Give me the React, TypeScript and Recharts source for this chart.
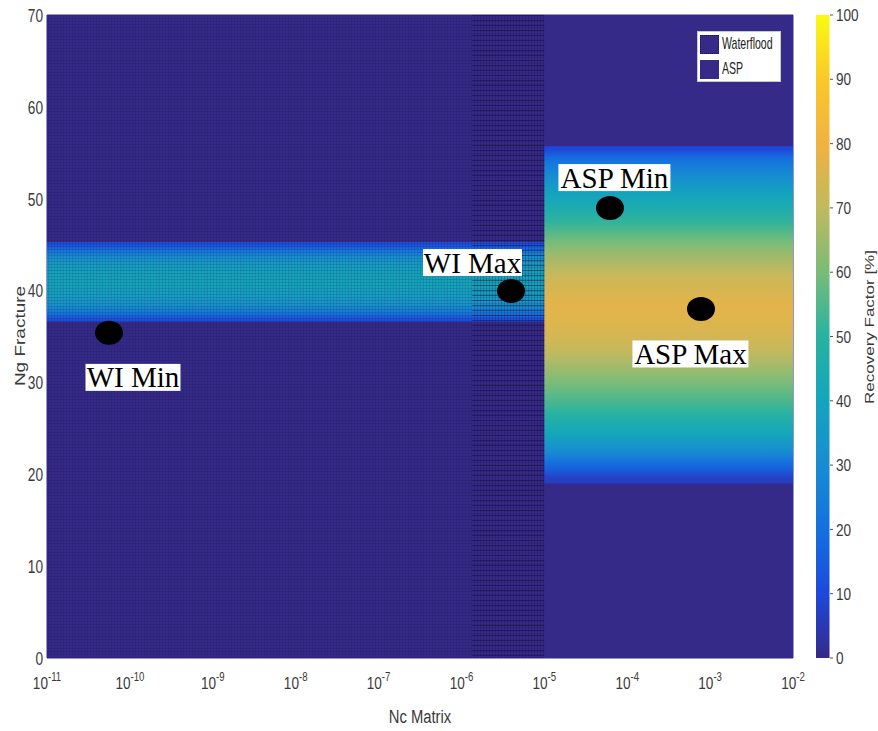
import React from 'react';
import {
  ComposedChart,
  Scatter,
  XAxis,
  YAxis,
  ReferenceArea,
  ReferenceDot,
  BarChart,
  Bar,
} from 'recharts';

// ---------- data ----------
const xTicks = [1e-11, 1e-10, 1e-9, 1e-8, 1e-7, 1e-6, 1e-5, 1e-4, 1e-3, 1e-2];
const yTicks = [0, 10, 20, 30, 40, 50, 60, 70];
const rfTicks = [0, 10, 20, 30, 40, 50, 60, 70, 80, 90, 100];

// regions of the Nc axis
const regionNames = ['Waterflood', 'ASP'];
const regionNcStart = [1e-11, 1e-5];
const regionNcEnd = [1e-5, 1e-2];
const regionBaseRF = [0, 0];

// Waterflood band (Ng rows, recovery factor)
const wfRowEdges = [36.6, 37.2, 38, 39, 40, 41, 42, 43, 44, 44.7, 45.3];
const wfRowRF = [12, 24, 33, 38, 40, 40, 38, 33, 22, 12];

// ASP band (Ng rows, recovery factor)
const aspRowEdges = [
  19, 20, 21, 22, 23, 24, 25, 26, 27, 28, 29, 30, 31, 32, 33, 34, 35, 36, 37, 38,
  39, 40, 41, 42, 43, 44, 45, 46, 47, 48, 49, 50, 51, 52, 53, 54, 55, 55.7,
];
const aspRowRF = [
  7, 15, 22, 30, 36, 41, 45, 49, 53, 56, 59, 62, 65, 68, 71, 73, 75, 76, 77,
  77, 76, 74, 72, 69, 66, 63, 59, 55, 51, 47, 43, 39, 35, 30, 25, 19, 10,
];

// dense mesh zone of the waterflood runs
const meshDenseStart = 1.35e-6;
const meshDenseEnd = 1e-5;

// marked cases
const pointNames = ['WI Min', 'WI Max', 'ASP Min', 'ASP Max'];
const pointNc = [5.6e-11, 3.96e-6, 6.19e-5, 7.76e-4];
const pointNg = [35.4, 39.95, 49.0, 38.0];
const labelNc = [1.09e-10, 1.36e-6, 7.01e-5, 5.79e-4];
const labelNg = [30.55, 43.05, 52.3, 33.1];

// ---------- colormap (parula-like) ----------
const CMAP: number[][] = [
  [53, 42, 135],
  [30, 72, 220],
  [20, 112, 222],
  [24, 140, 210],
  [20, 165, 188],
  [40, 178, 160],
  [120, 188, 120],
  [192, 185, 95],
  [240, 178, 66],
  [250, 200, 42],
  [249, 250, 20],
];
function parula(v: number): string {
  const t = Math.max(0, Math.min(100, v)) / 10;
  const i = Math.min(9, Math.floor(t));
  const f = t - i;
  const a = CMAP[i];
  const b = CMAP[i + 1];
  const c = a.map((av, k) => Math.round(av + (b[k] - av) * f));
  return `rgb(${c[0]},${c[1]},${c[2]})`;
}

// gradient stops (offset 0 = bottom of band) derived from the row data
function bandStops(edges: number[], rf: number[]) {
  const lo = edges[0];
  const hi = edges[edges.length - 1];
  const stops: { off: number; color: string }[] = [];
  stops.push({ off: 0, color: parula(rf[0]) });
  rf.forEach((v, i) => {
    const mid = (edges[i] + edges[i + 1]) / 2;
    stops.push({ off: (mid - lo) / (hi - lo), color: parula(v) });
  });
  stops.push({ off: 1, color: parula(rf[rf.length - 1]) });
  return stops;
}
const wfStops = bandStops(wfRowEdges, wfRowRF);
const aspStops = bandStops(aspRowEdges, aspRowRF);

const points = pointNames.map((name, i) => ({ name, nc: pointNc[i], ng: pointNg[i] }));

const LABEL_BOX_W = [95, 99, 112, 116];
const SANS = 'Liberation Sans, Arial, Helvetica, sans-serif';
const SERIF = 'Liberation Serif, Times New Roman, serif';

// ---------- ticks ----------
const XTick = (props: any) => {
  const { x, y, payload } = props;
  const e = Math.round(Math.log10(payload.value));
  return (
    <g transform={`translate(${x},${y})`}>
      <text transform="scale(0.8,1)" textAnchor="middle" y={31} fontSize={17} fill="#3a3a3a" fontFamily={SANS}>
        <tspan>10</tspan>
        <tspan dy={-8} fontSize={12}>
          {String(e)}
        </tspan>
      </text>
    </g>
  );
};

const YTick = (props: any) => {
  const { x, y, payload } = props;
  return (
    <g transform={`translate(${x},${y})`}>
      <text transform="scale(0.72,1)" textAnchor="end" dy="0.36em" fontSize={19} fill="#3a3a3a" fontFamily={SANS}>
        {payload.value}
      </text>
    </g>
  );
};

const CTick = (props: any) => {
  const { x, y, payload } = props;
  return (
    <g transform={`translate(${x},${y})`}>
      <text transform="scale(0.8,1)" textAnchor="start" dy="0.36em" fontSize={17} fill="#3a3a3a" fontFamily={SANS}>
        {payload.value}
      </text>
    </g>
  );
};

const Dot = (props: any) => {
  const { cx, cy } = props;
  return <ellipse cx={cx} cy={cy} rx={14} ry={12} fill="#000" />;
};

const makeLabel = (text: string, w: number) => (props: any) => {
  const { cx, cy } = props;
  return (
    <g>
      <rect x={cx - w / 2} y={cy - 13.5} width={w} height={27} fill="#fff" />
      <text x={cx} y={cy + 10} textAnchor="middle" fontSize={29} fontFamily={SERIF} fill="#000">
        {text}
      </text>
    </g>
  );
};

export default function App() {
  return (
    <div style={{ position: 'absolute', left: 0, top: 0, width: 878, height: 731, background: '#fff' }}>
      <ComposedChart width={878} height={731} margin={{ top: 15, right: 85, bottom: 0, left: 0 }}>
        <defs>
          <pattern id="meshFine" width={3} height={3} patternUnits="userSpaceOnUse">
            <path d="M0 0.5 H3 M0.5 0 V3" stroke="#160f45" strokeOpacity={0.14} strokeWidth={1} fill="none" />
          </pattern>
          <pattern id="meshDense" width={3} height={5} patternUnits="userSpaceOnUse">
            <path d="M0 0.5 H3" stroke="#0e0a30" strokeOpacity={0.45} strokeWidth={1} fill="none" />
            <path d="M0.5 0 V5" stroke="#0e0a30" strokeOpacity={0.12} strokeWidth={1} fill="none" />
          </pattern>
          <linearGradient id="rfGrad" x1="0" y1="1" x2="0" y2="0">
            {rfTicks.map((v) => (
              <stop key={v} offset={`${v}%`} stopColor={parula(v)} />
            ))}
          </linearGradient>
          <linearGradient id="wfGrad" x1="0" y1="1" x2="0" y2="0">
            {wfStops.map((s, i) => (
              <stop key={i} offset={s.off} stopColor={s.color} />
            ))}
          </linearGradient>
          <linearGradient id="aspGrad" x1="0" y1="1" x2="0" y2="0">
            {aspStops.map((s, i) => (
              <stop key={i} offset={s.off} stopColor={s.color} />
            ))}
          </linearGradient>
        </defs>
        <XAxis
          type="number"
          dataKey="nc"
          scale="log"
          domain={[1e-11, 1e-2]}
          ticks={xTicks}
          interval={0}
          allowDataOverflow
          height={73}
          tickLine={false}
          axisLine={false}
          tickSize={0}
          tickMargin={0}
          tick={(p: any) => <XTick {...p} />}
        />
        <YAxis
          type="number"
          dataKey="ng"
          domain={[0, 70]}
          ticks={yTicks}
          interval={0}
          allowDataOverflow
          width={47}
          tickLine={false}
          axisLine={false}
          tickSize={0}
          tickMargin={4}
          tick={(p: any) => <YTick {...p} />}
        />
        {regionNames.map((n, r) => (
          <ReferenceArea
            key={`base${n}`}
            x1={regionNcStart[r]}
            x2={regionNcEnd[r]}
            y1={0}
            y2={70}
            fill={parula(regionBaseRF[r])}
            fillOpacity={1}
            stroke={parula(regionBaseRF[r])}
            strokeWidth={1}
            ifOverflow="visible"
          />
        ))}
        <ReferenceArea
          x1={regionNcStart[0]}
          x2={regionNcEnd[0]}
          y1={wfRowEdges[0]}
          y2={wfRowEdges[wfRowEdges.length - 1]}
          fill="url(#wfGrad)"
          fillOpacity={1}
          stroke="none"
          ifOverflow="visible"
        />
        <ReferenceArea
          x1={regionNcStart[1]}
          x2={regionNcEnd[1]}
          y1={aspRowEdges[0]}
          y2={aspRowEdges[aspRowEdges.length - 1]}
          fill="url(#aspGrad)"
          fillOpacity={1}
          stroke="none"
          ifOverflow="visible"
        />
        <ReferenceArea
          x1={regionNcStart[0]}
          x2={regionNcEnd[0]}
          y1={0}
          y2={70}
          fill="url(#meshFine)"
          fillOpacity={1}
          stroke="none"
          ifOverflow="visible"
        />
        <ReferenceArea
          x1={meshDenseStart}
          x2={meshDenseEnd}
          y1={0}
          y2={70}
          fill="url(#meshDense)"
          fillOpacity={1}
          stroke="none"
          ifOverflow="visible"
        />
        <Scatter data={points} dataKey="ng" shape={(p: any) => <Dot {...p} />} isAnimationActive={false} />
        {pointNames.map((n, i) => (
          <ReferenceDot
            key={n}
            x={labelNc[i]}
            y={labelNg[i]}
            r={1}
            ifOverflow="visible"
            shape={makeLabel(n, LABEL_BOX_W[i])}
          />
        ))}
        <text
          x={420}
          y={723}
          textAnchor="middle"
          fontSize={19}
          fill="#3a3a3a"
          fontFamily={SANS}
          transform="translate(420,0) scale(0.78,1) translate(-420,0)"
        >
          Nc Matrix
        </text>
        <text
          x={0}
          y={0}
          textAnchor="middle"
          fontSize={19}
          fill="#3a3a3a"
          fontFamily={SANS}
          transform="translate(25,336) rotate(-90) scale(1,0.75)"
        >
          Ng Fracture
        </text>
      </ComposedChart>

      {/* legend */}
      <div
        style={{
          position: 'absolute',
          left: 697,
          top: 31,
          width: 84,
          height: 51,
          background: '#fff',
          border: '1px solid #c8c8c8',
          boxSizing: 'border-box',
        }}
      >
        {regionNames.map((n, i) => (
          <div key={n} style={{ position: 'absolute', left: 2, top: 2 + i * 25, height: 20, display: 'flex', alignItems: 'center' }}>
            <div
              style={{
                width: 19,
                height: 19,
                background: parula(regionBaseRF[i]),
                border: i === 0 ? '1px dotted #1c1450' : 'none',
                boxSizing: 'border-box',
              }}
            />
            <div
              style={{
                marginLeft: 3,
                fontFamily: SANS,
                fontSize: 17,
                color: '#222',
                transform: 'scaleX(0.62)',
                transformOrigin: 'left center',
                whiteSpace: 'nowrap',
              }}
            >
              {n}
            </div>
          </div>
        ))}
      </div>

      {/* colorbar */}
      <div style={{ position: 'absolute', left: 815, top: 0 }}>
        <BarChart width={63} height={731} data={[{ k: 'rf', v: 100 }]} margin={{ top: 15, right: 8, bottom: 73, left: 0 }} barCategoryGap={0}>
          <XAxis dataKey="k" hide />
          <YAxis
            orientation="right"
            type="number"
            domain={[0, 100]}
            ticks={rfTicks}
            interval={0}
            width={40}
            axisLine={false}
            tickLine={{ stroke: '#555' }}
            tickSize={3}
            tickMargin={3}
            tick={(p: any) => <CTick {...p} />}
          />
          <Bar dataKey="v" fill="url(#rfGrad)" barSize={15} isAnimationActive={false} />
          <text
            x={0}
            y={0}
            textAnchor="middle"
            fontSize={17}
            fill="#3a3a3a"
            fontFamily={SANS}
            transform="translate(59,327) rotate(-90) scale(1,0.78)"
          >
            Recovery Factor [%]
          </text>
        </BarChart>
      </div>
    </div>
  );
}
